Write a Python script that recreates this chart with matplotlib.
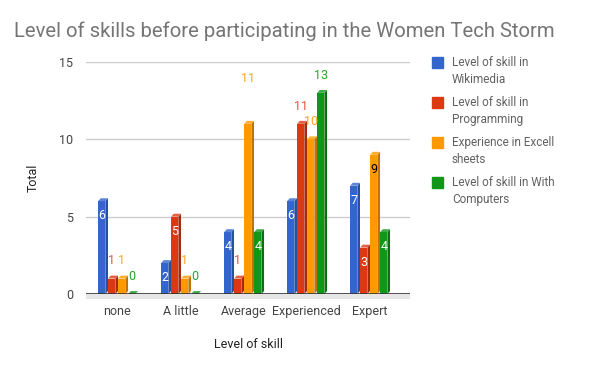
import matplotlib
matplotlib.use("Agg")
import matplotlib.pyplot as plt
from matplotlib.patches import Polygon, Rectangle
import numpy as np

plt.rcParams['font.family'] = ['Roboto', 'DejaVu Sans']

categories = ["none", "A little", "Average", "Experienced", "Expert"]
series_names = ["Level of skill in\nWikimedia", "Level of skill in\nProgramming",
                "Experience in Excell\nsheets", "Level of skill in With\nComputers"]
wikimedia = [6, 2, 4, 6, 7]
programming = [1, 5, 1, 11, 3]
excel = [1, 1, 11, 10, 9]
computers = [0, 0, 4, 13, 4]
series = [wikimedia, programming, excel, computers]
yticks = [0, 5, 10, 15]

colors = ["#3366cc", "#dc3912", "#ff9900", "#109618"]
side_colors = ["#26509f", "#a52b0e", "#bf7300", "#0c7012"]
top_colors = ["#5c85d6", "#e56146", "#ffad33", "#40ab46"]
# label placement style: 'in' inside near top, 'up' above bar
placement = [["in", "in", "in", "in", "in"],
             ["up", "in", "up", "up", "in"],
             ["up", "up", "up", "up", "in"],
             ["up", "up", "in", "up", "in"]]
label_colors = [["white"] * 5,
                ["#e8553a", "white", "#e8553a", "#e8553a", "white"],
                ["#ffa31a", "#ffa31a", "#ffa31a", "#ffa31a", "black"],
                ["#20a828", "#20a828", "white", "#20a828", "white"]]
extra_up = {(2, 2): 1.75}

fig = plt.figure(figsize=(6, 3.71), dpi=100)
ax = fig.add_axes([86 / 600, 0.2075, 324 / 600, 0.6255])
ax.set_xlim(-0.5, -0.5 + 324 / 63)
ax.set_ylim(0, 15)

bw = 0.159
fw = 0.115  # front face width
dx = 0.042
dy = 0.19
x = np.arange(len(categories))

for y in [5, 10, 15]:
    ax.axhline(y, color="#cccccc", lw=1, zorder=0)

for i, vals in enumerate(series):
    offs = (i - 1.5) * bw
    for j, v in enumerate(vals):
        x0 = x[j] + offs - bw / 2 + 0.01
        ax.bar(x0, v, width=fw, align="edge", color=colors[i], zorder=2, lw=0)
        side = Polygon([(x0 + fw, 0), (x0 + fw + dx, dy), (x0 + fw + dx, v + dy), (x0 + fw, v)],
                       closed=True, color=side_colors[i], lw=0, zorder=2)
        top = Polygon([(x0, v), (x0 + dx, v + dy), (x0 + fw + dx, v + dy), (x0 + fw, v)],
                      closed=True, color=top_colors[i], lw=0, zorder=2)
        ax.add_patch(side)
        ax.add_patch(top)
        cx = x0 + fw / 2
        if placement[i][j] == "in":
            ly = v - 0.95
        else:
            ly = v + 1.15 + extra_up.get((i, j), 0)
        ax.text(cx, ly, str(v), ha="center", va="center", fontsize=9,
                color=label_colors[i][j], zorder=3)

ax.axhline(0, color="#333333", lw=1.2, zorder=3)
ax.add_patch(Rectangle((-0.5, -0.35), 324 / 63, 0.35, color="#e6e6e6", lw=0, clip_on=False, zorder=1))

for s in ax.spines.values():
    s.set_visible(False)
ax.set_yticks(yticks)
ax.set_xticks(x)
ax.set_xticklabels(categories)
ax.tick_params(axis="both", length=0, labelsize=9, labelcolor="#444444")
ax.tick_params(axis="y", pad=9)
ax.tick_params(axis="x", pad=8)
ax.set_xlabel("Level of skill", fontsize=9, color="#222222", labelpad=14)
ax.set_ylabel("Total", fontsize=9, color="#222222", labelpad=14)

fig.text(0.023, 0.915, "Level of skills before participating in the Women Tech Storm",
         fontsize=14.6, color="#757575", ha="left", va="center")

for i, name in enumerate(series_names):
    ly = 1 - (62 + 40 * i) / 371
    fig.patches.append(Rectangle((432 / 600, ly - 6 / 371), 11 / 600, 11 / 371,
                                 transform=fig.transFigure, color=colors[i], figure=fig))
    fig.text(452 / 600, ly + 6 / 371, name, fontsize=8.5, color="#616161",
             ha="left", va="top", linespacing=1.35)

fig.savefig("out.png", dpi=100)
